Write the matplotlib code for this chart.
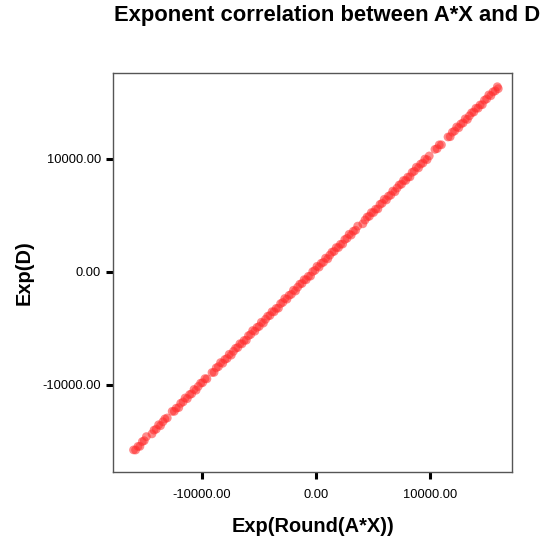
import matplotlib
matplotlib.use("Agg")
import matplotlib.pyplot as plt

plt.rcParams['font.family'] = ['Liberation Sans', 'DejaVu Sans']

# Exponent of round(A*X) against exponent of D
exp_round_ax = [
    -16010, -15830, -15620, -15450, -15240, -15070, -14880, -14390, -14210, -14020,
    -13810, -13640, -13430, -13260, -13050, -12620, -12430, -12260, -12040, -11870,
    -11660, -11480, -11290, -11080, -10910, -10700, -10520, -10330, -10120, -9950,
    -9740, -9570, -9120, -8940, -8750, -8560, -8370, -8180, -7990, -7800,
    -7610, -7430, -7240, -7050, -6860, -6670, -6490, -6300, -6110, -5920,
    -5730, -5550, -5360, -5170, -4980, -4790, -4610, -4420, -4230, -4040,
    -3850, -3670, -3480, -3290, -3100, -2910, -2730, -2540, -2350, -2160,
    -1970, -1790, -1600, -1410, -1220, -1030, -850, -660, -470, -280,
    -90, 100, 280, 470, 660, 850, 1040, 1220, 1410, 1600,
    1790, 1980, 2160, 2350, 2540, 2730, 2920, 3100, 3290, 3480,
    3670, 4120, 4310, 4500, 4690, 4870, 5060, 5250, 5440, 5630,
    5810, 6000, 6190, 6380, 6570, 6750, 6940, 7130, 7320, 7510,
    7690, 7880, 8070, 8260, 8450, 8630, 8820, 9010, 9200, 9390,
    9570, 9760, 9950, 10450, 10640, 10830, 11020, 11600, 11790, 11980,
    12170, 12360, 12540, 12730, 12920, 13110, 13300, 13480, 13670, 13860,
    14050, 14240, 14420, 14610, 14800, 14990, 15180, 15360, 15550, 15740,
    15930, 16010,
]
exp_d = [
    -15746, -15755, -15434, -15433, -15011, -14930, -14569, -14326, -13995, -13914,
    -13523, -13602, -13251, -13000, -12918, -12336, -12335, -12054, -12002, -11621,
    -11500, -11149, -11208, -10846, -10785, -10394, -10463, -10132, -9841, -9800,
    -9438, -9457, -8895, -8884, -8482, -8381, -8020, -8079, -7738, -7657,
    -7286, -7355, -7023, -6752, -6691, -6350, -6359, -6058, -6037, -5636,
    -5534, -5183, -5242, -4901, -4820, -4449, -4518, -4187, -3915, -3854,
    -3513, -3522, -3221, -3200, -2799, -2697, -2346, -2405, -2064, -1983,
    -1612, -1681, -1350, -1078, -1017, -676, -685, -384, -363, 38,
    139, 501, 432, 773, 854, 1225, 1166, 1487, 1758, 1820,
    2161, 2162, 2453, 2474, 2875, 2976, 3338, 3269, 3610, 3691,
    4062, 4265, 4596, 4867, 4928, 5259, 5260, 5562, 5583, 5984,
    6075, 6436, 6377, 6718, 6799, 7161, 7102, 7433, 7704, 7765,
    8096, 8097, 8398, 8420, 8821, 8912, 9273, 9214, 9555, 9636,
    9997, 9939, 10270, 10853, 10914, 11255, 11256, 11950, 11971, 12372,
    12473, 12834, 12765, 13106, 13188, 13559, 13500, 13821, 14092, 14153,
    14494, 14495, 14787, 14808, 15209, 15310, 15671, 15602, 15943, 16024,
    16396, 16226,
]
tick_values = [-10000, 0, 10000]
tick_labels = ['-10000.00', '0.00', '10000.00']

fig = plt.figure(figsize=(5.43, 5.38), dpi=100)
ax = fig.add_axes([0.209, 0.1227, 0.734, 0.7416])

ax.scatter(exp_round_ax, exp_d, s=40, color='#ff2a2a', alpha=0.55,
           edgecolors='none')

ax.set_xlim(-17770, 17220)
ax.set_ylim(-17700, 17610)
ax.set_xticks(tick_values)
ax.set_xticklabels(tick_labels)
ax.set_yticks(tick_values)
ax.set_yticklabels(tick_labels)
ax.tick_params(direction='out', length=5, width=2.2, color='black',
               labelsize=9.3)
ax.tick_params(axis='x', pad=7)
ax.tick_params(axis='y', pad=4)

for spine in ax.spines.values():
    spine.set_color('#555555')
    spine.set_linewidth(1.0)

ax.set_xlabel('Exp(Round(A*X))', fontsize=14.4, fontweight='bold', labelpad=12)
ax.set_ylabel('Exp(D)', fontsize=14.4, fontweight='bold', labelpad=6)

fig.text(114 / 543, 1 - 21.5 / 538, 'Exponent correlation between A*X and D',
         fontsize=15.8, fontweight='bold', ha='left', va='baseline')

fig.savefig('out.png', dpi=100)
